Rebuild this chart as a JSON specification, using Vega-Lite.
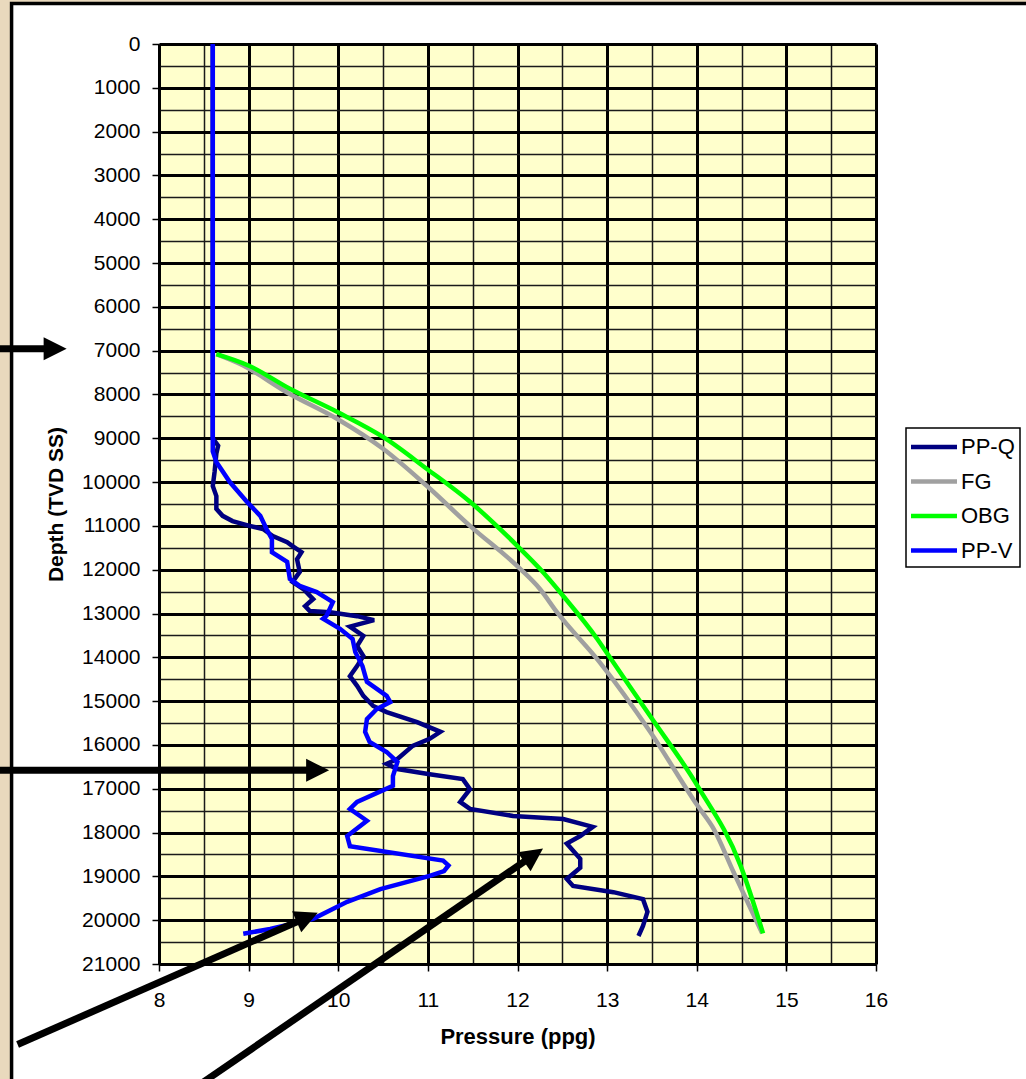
{
  "$schema": "https://vega.github.io/schema/vega-lite/v6.json",
  "width": 717,
  "height": 920,
  "autosize": {"type": "none"},
  "padding": {"left": 159, "top": 44, "right": 150, "bottom": 115},
  "background": "white",
  "config": {
    "font": "Liberation Sans",
    "view": {"fill": "#ffffcc", "stroke": null},
    "legend": {
      "orient": "none",
      "legendX": 747,
      "legendY": 384,
      "title": null,
      "symbolType": "M-2,0H2",
      "symbolSize": 529,
      "symbolStrokeWidth": 4.5,
      "symbolOffset": 9,
      "labelOffset": 13,
      "labelFontSize": 22,
      "labelColor": "black",
      "fillColor": "white",
      "strokeColor": "black",
      "strokeWidth": 1.5,
      "padding": 5,
      "rowPadding": 9.5
    }
  },
  "datasets": {
    "curves": [
      {"s": "PP-Q", "p": 8.60, "d": 0}, {"s": "PP-Q", "p": 8.60, "d": 9000}, {"s": "PP-Q", "p": 8.66, "d": 9170}, {"s": "PP-Q", "p": 8.64, "d": 9350}, {"s": "PP-Q", "p": 8.62, "d": 9770}, {"s": "PP-Q", "p": 8.60, "d": 10090}, {"s": "PP-Q", "p": 8.64, "d": 10320}, {"s": "PP-Q", "p": 8.64, "d": 10610}, {"s": "PP-Q", "p": 8.71, "d": 10770}, {"s": "PP-Q", "p": 8.82, "d": 10890}, {"s": "PP-Q", "p": 9.01, "d": 11000}, {"s": "PP-Q", "p": 9.16, "d": 11070}, {"s": "PP-Q", "p": 9.27, "d": 11230}, {"s": "PP-Q", "p": 9.43, "d": 11370}, {"s": "PP-Q", "p": 9.49, "d": 11460}, {"s": "PP-Q", "p": 9.59, "d": 11600}, {"s": "PP-Q", "p": 9.54, "d": 11760}, {"s": "PP-Q", "p": 9.57, "d": 12050}, {"s": "PP-Q", "p": 9.49, "d": 12280}, {"s": "PP-Q", "p": 9.61, "d": 12440}, {"s": "PP-Q", "p": 9.72, "d": 12670}, {"s": "PP-Q", "p": 9.63, "d": 12830}, {"s": "PP-Q", "p": 9.68, "d": 12940}, {"s": "PP-Q", "p": 9.91, "d": 12970}, {"s": "PP-Q", "p": 10.21, "d": 13060}, {"s": "PP-Q", "p": 10.40, "d": 13150}, {"s": "PP-Q", "p": 10.13, "d": 13300}, {"s": "PP-Q", "p": 10.28, "d": 13510}, {"s": "PP-Q", "p": 10.21, "d": 13740}, {"s": "PP-Q", "p": 10.28, "d": 13970}, {"s": "PP-Q", "p": 10.21, "d": 14200}, {"s": "PP-Q", "p": 10.13, "d": 14430}, {"s": "PP-Q", "p": 10.21, "d": 14650}, {"s": "PP-Q", "p": 10.28, "d": 14880}, {"s": "PP-Q", "p": 10.39, "d": 15110}, {"s": "PP-Q", "p": 10.54, "d": 15250}, {"s": "PP-Q", "p": 10.88, "d": 15480}, {"s": "PP-Q", "p": 11.14, "d": 15700}, {"s": "PP-Q", "p": 11.02, "d": 15860}, {"s": "PP-Q", "p": 10.83, "d": 16020}, {"s": "PP-Q", "p": 10.66, "d": 16320}, {"s": "PP-Q", "p": 10.54, "d": 16430}, {"s": "PP-Q", "p": 10.66, "d": 16550}, {"s": "PP-Q", "p": 11.02, "d": 16670}, {"s": "PP-Q", "p": 11.39, "d": 16780}, {"s": "PP-Q", "p": 11.47, "d": 17010}, {"s": "PP-Q", "p": 11.36, "d": 17300}, {"s": "PP-Q", "p": 11.47, "d": 17460}, {"s": "PP-Q", "p": 11.95, "d": 17620}, {"s": "PP-Q", "p": 12.51, "d": 17690}, {"s": "PP-Q", "p": 12.84, "d": 17870}, {"s": "PP-Q", "p": 12.70, "d": 18080}, {"s": "PP-Q", "p": 12.55, "d": 18250}, {"s": "PP-Q", "p": 12.70, "d": 18600}, {"s": "PP-Q", "p": 12.70, "d": 18800}, {"s": "PP-Q", "p": 12.55, "d": 19060}, {"s": "PP-Q", "p": 12.62, "d": 19220}, {"s": "PP-Q", "p": 13.07, "d": 19360}, {"s": "PP-Q", "p": 13.40, "d": 19520}, {"s": "PP-Q", "p": 13.45, "d": 19810}, {"s": "PP-Q", "p": 13.40, "d": 20130}, {"s": "PP-Q", "p": 13.35, "d": 20360},
      {"s": "FG", "p": 8.64, "d": 7080}, {"s": "FG", "p": 8.90, "d": 7300}, {"s": "FG", "p": 9.46, "d": 7990}, {"s": "FG", "p": 9.99, "d": 8560}, {"s": "FG", "p": 10.50, "d": 9240}, {"s": "FG", "p": 10.99, "d": 10090}, {"s": "FG", "p": 11.47, "d": 11000}, {"s": "FG", "p": 12.03, "d": 11980}, {"s": "FG", "p": 12.25, "d": 12440}, {"s": "FG", "p": 12.44, "d": 12970}, {"s": "FG", "p": 12.92, "d": 14120}, {"s": "FG", "p": 13.48, "d": 15700}, {"s": "FG", "p": 14.01, "d": 17390}, {"s": "FG", "p": 14.19, "d": 17920}, {"s": "FG", "p": 14.41, "d": 18900}, {"s": "FG", "p": 14.73, "d": 20300},
      {"s": "OBG", "p": 8.64, "d": 7080}, {"s": "OBG", "p": 9.01, "d": 7350}, {"s": "OBG", "p": 9.46, "d": 7870}, {"s": "OBG", "p": 9.99, "d": 8400}, {"s": "OBG", "p": 10.50, "d": 8970}, {"s": "OBG", "p": 10.99, "d": 9700}, {"s": "OBG", "p": 11.47, "d": 10450}, {"s": "OBG", "p": 12.00, "d": 11460}, {"s": "OBG", "p": 12.25, "d": 11980}, {"s": "OBG", "p": 12.51, "d": 12600}, {"s": "OBG", "p": 12.89, "d": 13580}, {"s": "OBG", "p": 13.03, "d": 14000}, {"s": "OBG", "p": 13.48, "d": 15340}, {"s": "OBG", "p": 14.01, "d": 16940}, {"s": "OBG", "p": 14.49, "d": 18760}, {"s": "OBG", "p": 14.74, "d": 20300},
      {"s": "PP-V", "p": 8.60, "d": 0}, {"s": "PP-V", "p": 8.60, "d": 9300}, {"s": "PP-V", "p": 8.64, "d": 9540}, {"s": "PP-V", "p": 8.79, "d": 10000}, {"s": "PP-V", "p": 8.98, "d": 10450}, {"s": "PP-V", "p": 9.13, "d": 10770}, {"s": "PP-V", "p": 9.20, "d": 11070}, {"s": "PP-V", "p": 9.26, "d": 11300}, {"s": "PP-V", "p": 9.26, "d": 11600}, {"s": "PP-V", "p": 9.43, "d": 11820}, {"s": "PP-V", "p": 9.46, "d": 12210}, {"s": "PP-V", "p": 9.57, "d": 12370}, {"s": "PP-V", "p": 9.76, "d": 12510}, {"s": "PP-V", "p": 9.94, "d": 12740}, {"s": "PP-V", "p": 9.87, "d": 13050}, {"s": "PP-V", "p": 9.83, "d": 13120}, {"s": "PP-V", "p": 10.02, "d": 13350}, {"s": "PP-V", "p": 10.16, "d": 13580}, {"s": "PP-V", "p": 10.19, "d": 13880}, {"s": "PP-V", "p": 10.27, "d": 14200}, {"s": "PP-V", "p": 10.32, "d": 14560}, {"s": "PP-V", "p": 10.54, "d": 14880}, {"s": "PP-V", "p": 10.58, "d": 15020}, {"s": "PP-V", "p": 10.43, "d": 15180}, {"s": "PP-V", "p": 10.32, "d": 15410}, {"s": "PP-V", "p": 10.30, "d": 15700}, {"s": "PP-V", "p": 10.35, "d": 15930}, {"s": "PP-V", "p": 10.54, "d": 16160}, {"s": "PP-V", "p": 10.66, "d": 16390}, {"s": "PP-V", "p": 10.61, "d": 16710}, {"s": "PP-V", "p": 10.61, "d": 16930}, {"s": "PP-V", "p": 10.21, "d": 17300}, {"s": "PP-V", "p": 10.13, "d": 17460}, {"s": "PP-V", "p": 10.32, "d": 17730}, {"s": "PP-V", "p": 10.10, "d": 18080}, {"s": "PP-V", "p": 10.13, "d": 18310}, {"s": "PP-V", "p": 11.17, "d": 18640}, {"s": "PP-V", "p": 11.23, "d": 18750}, {"s": "PP-V", "p": 11.18, "d": 18880}, {"s": "PP-V", "p": 11.02, "d": 18990}, {"s": "PP-V", "p": 10.47, "d": 19290}, {"s": "PP-V", "p": 10.10, "d": 19580}, {"s": "PP-V", "p": 9.72, "d": 19970}, {"s": "PP-V", "p": 9.24, "d": 20200}, {"s": "PP-V", "p": 8.94, "d": 20310}
    ],
    "arrows": [
      {"id": "a1", "p0": 6.165, "d0": 6959, "p1": 6.841, "d1": 6959},
      {"id": "a2", "p0": 6.165, "d0": 16580, "p1": 9.770, "d1": 16580},
      {"id": "a3", "p0": 6.422, "d0": 22838, "p1": 9.654, "d1": 19932},
      {"id": "a4", "p0": 8.488, "d0": 23705, "p1": 12.179, "d1": 18515}
    ]
  },
  "resolve": {"axis": {"x": "independent", "y": "independent"}},
  "layer": [
    {
      "data": {"values": [{}]},
      "mark": {"type": "rect", "fill": "#e9d9bd", "stroke": null},
      "encoding": {
        "x": {"datum": 6.0, "type": "quantitative", "scale": {"domain": [8, 16], "nice": false, "zero": false}, "axis": null},
        "x2": {"datum": 6.355},
        "y": {"datum": -1100, "type": "quantitative", "scale": {"domain": [0, 21000], "reverse": true, "nice": false, "zero": false}, "axis": null},
        "y2": {"datum": 25000}
      }
    },
    {
      "data": {"values": [{}]},
      "mark": {"type": "rect", "fill": "#e9d9bd", "stroke": null},
      "encoding": {
        "x": {"datum": 6.0, "type": "quantitative", "axis": null},
        "x2": {"datum": 18},
        "y": {"datum": -1100, "type": "quantitative", "axis": null},
        "y2": {"datum": -924}
      }
    },
    {
      "data": {"values": [{}]},
      "mark": {"type": "rect", "fill": null, "fillOpacity": 0, "stroke": "black", "strokeWidth": 3.5},
      "encoding": {
        "x": {"datum": 6.355, "type": "quantitative", "axis": null},
        "x2": {"datum": 18},
        "y": {"datum": -924, "type": "quantitative", "axis": null},
        "y2": {"datum": 25000}
      }
    },
    {
      "data": {"name": "curves"},
      "mark": {"type": "point", "opacity": 0},
      "encoding": {
        "x": {"field": "p", "type": "quantitative", "axis": {"orient": "top", "values": [8.5, 9.5, 10.5, 11.5, 12.5, 13.5, 14.5, 15.5], "grid": true, "gridColor": "#1a1a1a", "gridWidth": 1.5, "gridOpacity": 1, "labels": false, "ticks": false, "domain": false, "title": null}},
        "y": {"field": "d", "type": "quantitative", "axis": {"orient": "right", "values": [500, 1500, 2500, 3500, 4500, 5500, 6500, 7500, 8500, 9500, 10500, 11500, 12500, 13500, 14500, 15500, 16500, 17500, 18500, 19500, 20500], "grid": true, "gridColor": "#1a1a1a", "gridWidth": 1.5, "gridOpacity": 1, "labels": false, "ticks": false, "domain": false, "title": null}}
      }
    },
    {
      "data": {"name": "curves"},
      "transform": [{"filter": "datum.s === 'PP-Q'"}],
      "mark": {"type": "line", "strokeWidth": 4.5},
      "encoding": {
        "x": {"field": "p", "type": "quantitative", "axis": {"orient": "bottom", "values": [8, 9, 10, 11, 12, 13, 14, 15, 16], "grid": true, "gridColor": "black", "gridWidth": 3, "gridOpacity": 1, "domainColor": "black", "domainWidth": 2, "tickColor": "black", "tickWidth": 1.5, "tickSize": 7, "labelFontSize": 21, "labelColor": "black", "labelPadding": 18, "labelFlush": false, "title": "Pressure (ppg)", "titleFontSize": 22, "titleFontWeight": "bold", "titleColor": "black", "titlePadding": 16}},
        "y": {"field": "d", "type": "quantitative", "axis": {"orient": "left", "values": [0, 1000, 2000, 3000, 4000, 5000, 6000, 7000, 8000, 9000, 10000, 11000, 12000, 13000, 14000, 15000, 16000, 17000, 18000, 19000, 20000, 21000], "format": "d", "grid": true, "gridColor": "black", "gridWidth": 3, "gridOpacity": 1, "domainColor": "black", "domainWidth": 2, "tickColor": "black", "tickWidth": 1.5, "tickSize": 7, "labelFontSize": 21, "labelColor": "black", "labelPadding": 12, "labelFlush": false, "title": "Depth (TVD SS)", "titleFontSize": 21, "titleFontWeight": "bold", "titleColor": "black", "titlePadding": 15}},
        "color": {"field": "s", "type": "nominal", "scale": {"domain": ["PP-Q", "FG", "OBG", "PP-V"], "range": ["#000080", "#a0a0a0", "#00ff00", "#0000ff"]}},
        "order": {"value": null}
      }
    },
    {
      "data": {"name": "curves"},
      "transform": [{"filter": "datum.s === 'FG' || datum.s === 'OBG'"}],
      "mark": {"type": "line", "strokeWidth": 4.5, "interpolate": "monotone"},
      "encoding": {
        "x": {"field": "p", "type": "quantitative", "axis": null},
        "y": {"field": "d", "type": "quantitative", "axis": null},
        "color": {"field": "s", "type": "nominal"},
        "order": {"value": null}
      }
    },
    {
      "data": {"name": "curves"},
      "transform": [{"filter": "datum.s === 'PP-V'"}],
      "mark": {"type": "line", "strokeWidth": 4.5},
      "encoding": {
        "x": {"field": "p", "type": "quantitative", "axis": null},
        "y": {"field": "d", "type": "quantitative", "axis": null},
        "color": {"field": "s", "type": "nominal"},
        "order": {"value": null}
      }
    },
    {
      "data": {"name": "arrows"},
      "mark": {"type": "rule", "color": "black", "strokeWidth": 7, "strokeCap": "butt"},
      "encoding": {
        "x": {"field": "p0", "type": "quantitative", "axis": null},
        "y": {"field": "d0", "type": "quantitative", "axis": null},
        "x2": {"field": "p1"},
        "y2": {"field": "d1"}
      }
    },
    {
      "data": {"name": "arrows"},
      "transform": [{"filter": "datum.id === 'a1' || datum.id === 'a2'"}],
      "mark": {"type": "point", "shape": "M1,0L-1,-1L-1,1Z", "size": 529, "filled": true, "color": "black", "opacity": 1, "angle": 0},
      "encoding": {
        "x": {"field": "p1", "type": "quantitative", "axis": null},
        "y": {"field": "d1", "type": "quantitative", "axis": null}
      }
    },
    {
      "data": {"name": "arrows"},
      "transform": [{"filter": "datum.id === 'a3'"}],
      "mark": {"type": "point", "shape": "M1,0L-1,-1L-1,1Z", "size": 529, "filled": true, "color": "black", "opacity": 1, "angle": -23.4},
      "encoding": {
        "x": {"field": "p1", "type": "quantitative", "axis": null},
        "y": {"field": "d1", "type": "quantitative", "axis": null}
      }
    },
    {
      "data": {"name": "arrows"},
      "transform": [{"filter": "datum.id === 'a4'"}],
      "mark": {"type": "point", "shape": "M1,0L-1,-1L-1,1Z", "size": 529, "filled": true, "color": "black", "opacity": 1, "angle": -34.6},
      "encoding": {
        "x": {"field": "p1", "type": "quantitative", "axis": null},
        "y": {"field": "d1", "type": "quantitative", "axis": null}
      }
    }
  ]
}
